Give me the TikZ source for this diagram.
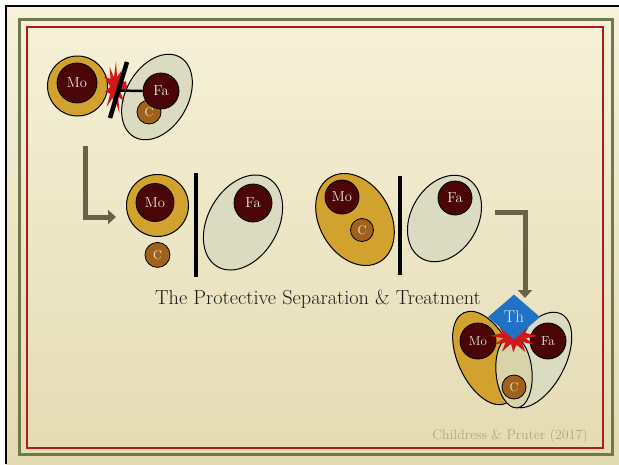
\documentclass[tikz,border=0pt]{standalone}
\usepackage{xcolor}
\usepackage{tikz}
\usetikzlibrary{arrows.meta,positioning,shapes.geometric}
\definecolor{parchtop}{HTML}{F6F1D8}
\definecolor{parchbot}{HTML}{E4DBB3}
\definecolor{frgreen}{HTML}{6D7A4B}
\definecolor{frred}{HTML}{B01C1C}
\definecolor{mogold}{HTML}{D2A22E}
\definecolor{maroon}{HTML}{4A0606}
\definecolor{fagray}{HTML}{DADBC0}
\definecolor{cbrown}{HTML}{A0621A}
\definecolor{cpale}{HTML}{D8D3A9}
\definecolor{burstred}{HTML}{D01818}
\definecolor{thblue}{HTML}{1F72C6}
\definecolor{thtext}{HTML}{F3E7B2}
\definecolor{arrowol}{HTML}{6A6146}
\definecolor{creditc}{HTML}{A7AA7B}
\definecolor{labelc}{HTML}{F4EAE4}

\begin{document}
\begin{tikzpicture}[
  x=1pt, y=-1pt,
  ring/.style={circle, draw=black, line width=1pt, fill=mogold, minimum size=#1, inner sep=0pt},
  person/.style={circle, draw=black, line width=0.8pt, fill=maroon, text=labelc,
               minimum size=#1, inner sep=0pt, font=\fontsize{14.5}{14.5}\selectfont},
  child/.style={circle, draw=black, line width=0.8pt, fill=cbrown, text=labelc,
               minimum size=#1, inner sep=0pt, font=\fontsize{12.5}{12.5}\selectfont},
  moset/.style={ellipse, draw=black, line width=1pt, fill=mogold, inner sep=0pt},
  faset/.style={ellipse, draw=black, line width=1pt, fill=fagray, inner sep=0pt},
  wall/.style={line width=4.5pt, black},
  turn/.style={arrowol, line width=5pt, -{Triangle[length=8pt, width=14pt]}},
  burst/.style={fill=burstred},
]
\useasboundingbox (0,0) rectangle (619,464);

% Slide frame
\fill[white] (0,0) rectangle (619,464);
\shade[top color=parchtop, bottom color=parchbot] (6,6) rectangle (619,464);
\draw[line width=2.5pt] (6,464) -- (6,6) -- (619,6);
\draw[frgreen, line width=3pt] (19,19) rectangle (612,454);
\draw[frred, line width=1.3pt] (27,27) rectangle (603,448);

% Before: cut-off
\node[ring=60pt] (mo1ring) at (77.5,86) {};
\node[person=40pt] (mo1) at (77,83) {Mo};
\node[faset, minimum width=92pt, minimum height=62pt, rotate=60] (fa1set) at (157,97) {};
\node[child=24pt] (c1) at (149,112) {C};
\node[person=36pt] (fa1) at (161,91) {Fa};
\fill[burst, shift={(115,88)}, x=12pt, y=-27pt] (0:1)
  \foreach \a/\r in {18/0.45,33/0.95,50/0.4,68/1,85/0.5,100/0.9,118/0.4,135/1,152/0.45,
                     170/0.85,188/0.4,205/1,222/0.5,240/0.9,258/0.4,275/1,292/0.45,310/0.85,
                     328/0.4,345/0.95} { -- (\a:\r) } -- cycle;
\draw[wall] (127,62) -- (110,118);
\coordinate (w1mid) at (118.5,90.5);
\draw[line width=2.5pt] (w1mid) -- (fa1.west);

% Arrow down
\coordinate (a1start) at (85,146);
\coordinate (a1end) at (116,217);
\draw[turn] (a1start) |- (a1end);

% Separation: child with mother
\node[ring=62pt] (mo2ring) at (157.5,205.5) {};
\node[person=38pt] (mo2) at (155,202.5) {Mo};
\node[child=25pt, below=5pt of mo2ring] (c2) {C};
\draw[wall] (196,173) -- (196,277);
\node[faset, minimum width=102pt, minimum height=70pt, rotate=60] (fa2set) at (243,222.5) {};
\node[person=38pt] (fa2) at (253,203) {Fa};

% Separation: child inside mother set
\node[moset, minimum width=98pt, minimum height=71pt, rotate=-60] (mo3set) at (355,219.5) {};
\node[person=34pt] (mo3) at (342,197) {Mo};
\node[child=23pt] (c3) at (362,230) {C};
\draw[wall] (400,176) -- (400,275);
\node[faset, minimum width=92pt, minimum height=67pt, rotate=60] (fa3set) at (444.5,218.5) {};
\node[person=34pt] (fa3) at (455,198) {Fa};

% Caption
\node[font=\fontsize{20.3}{24}\selectfont, text=black!90] (title) at (318,299)
  {The Protective Separation \& Treatment};

% Arrow to treatment
\coordinate (a2start) at (495,212);
\coordinate (a2end) at (525,298);
\draw[turn] (a2start) -| (a2end);

% Treatment
\node[moset, minimum width=100pt, minimum height=54pt, rotate=-65] (mo4set) at (485,358) {};
\node[faset, minimum width=104pt, minimum height=56pt, rotate=62] (fa4set) at (537,360) {};
\node[ellipse, draw=black, line width=1pt, fill=cpale, minimum width=36pt,
      minimum height=72pt, inner sep=0pt, rotate=5] (c4set) at (514,372) {};
\node[person=36pt, font=\fontsize{13}{13}\selectfont] (mo4) at (478,341) {Mo};
\node[person=36pt, font=\fontsize{13}{13}\selectfont] (fa4) at (548,341) {Fa};
\node[child=24pt] (c4) at (514,387) {C};
\fill[burst, shift={(514,336)}, x=24pt, y=-18pt] (0:1)
  \foreach \a/\r in {15/0.5,30/0.95,45/0.45,62/1,78/0.5,92/0.9,106/0.45,120/1,135/0.5,
                     150/0.95,165/0.45,180/1,200/0.5,220/0.8,240/0.45,270/0.7,300/0.45,
                     320/0.8,340/0.5} { -- (\a:\r) } -- cycle;
\node[diamond, fill=thblue, minimum width=52pt, minimum height=45pt, inner sep=0pt,
      text=thtext, font=\fontsize{17}{17}\selectfont] (th) at (514,317) {Th};

% Credit
\node[font=\fontsize{13.9}{16}\selectfont, text=creditc] (credit) at (510,436)
  {Childress \& Pruter (2017)};
\end{tikzpicture}
\end{document}
